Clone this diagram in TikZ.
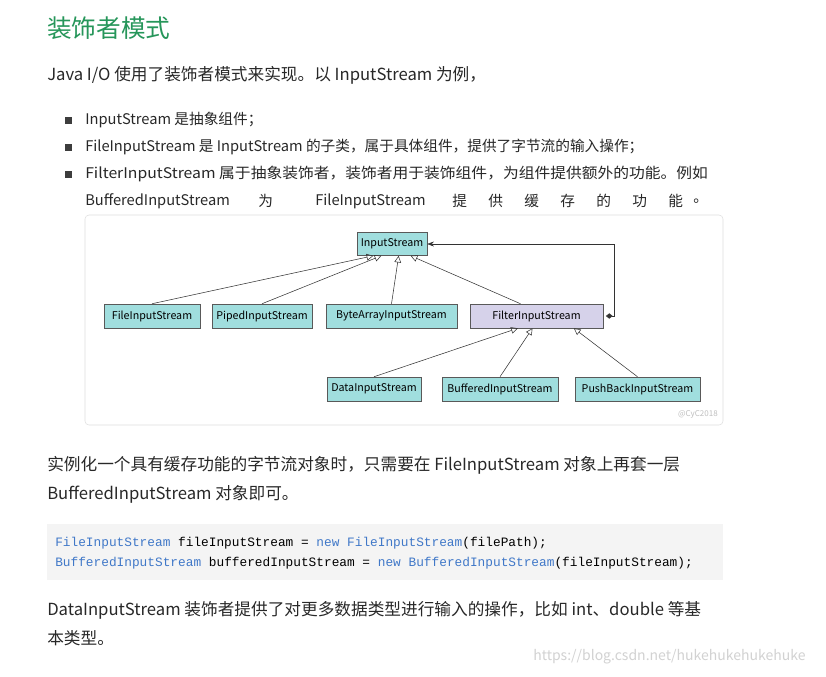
\documentclass[tikz,border=0pt]{standalone}
\usepackage{fontspec}
\setmainfont{Noto Sans CJK SC}
\setmonofont{Liberation Mono}
\usetikzlibrary{arrows.meta}
\definecolor{headg}{RGB}{38,150,90}
\definecolor{txt}{RGB}{40,40,40}
\definecolor{cyanbox}{RGB}{160,222,222}
\definecolor{purbox}{RGB}{214,210,234}
\definecolor{kw}{RGB}{64,120,200}
\tikzset{
 t/.style={anchor=west,inner sep=0pt,text=txt,font=\fontsize{12.5}{14}\selectfont},
 bt/.style={anchor=west,inner sep=0pt,text=txt,font=\fontsize{11}{12}\selectfont},
 cls/.style={draw=gray!70!black,fill=cyanbox,inner sep=0pt,font=\fontsize{8}{9}\selectfont},
 inh/.style={draw=gray!40!black,-{Triangle[open,length=5pt,width=5pt]}},
 code/.style={anchor=west,inner sep=0pt,font=\ttfamily\fontsize{9.6}{11}\selectfont}
}
\begin{document}
\begin{tikzpicture}[x=0.75pt,y=-0.75pt]
\fill[white] (0,0) rectangle (826,676);
\node[anchor=west,inner sep=0pt,text=headg,font=\fontsize{18.5}{20}\selectfont] (h) at (47,28) {装饰者模式};
\node[t] (p1) at (47,75) {Java I/O 使用了装饰者模式来实现。以 InputStream 为例，};
\foreach \y in {120,147,174}{\fill[txt!90] (65,\y-3.5) rectangle +(7,7);}
\node[bt] (b1) at (85,120) {InputStream 是抽象组件；};
\node[bt] (b2) at (85,147) {FileInputStream 是 InputStream 的子类，属于具体组件，提供了字节流的输入操作；};
\node[bt] (b3) at (85,174) {\scalebox{1.075}[1]{FilterInputStream 属于抽象装饰者，装饰者用于装饰组件，为组件提供额外的功能。例如}};
\node[bt] (c1) at (85,201) {BufferedInputStream};
\node[bt] (c2) at (258,201) {为};
\node[bt] (c3) at (315,201) {FileInputStream};
\foreach \x/\c in {452/提,488/供,524/缓,560/存,596/的,632/功,668/能,693/。}{\node[bt] at (\x,201) {\c};}
% diagram frame
\draw[gray!25,rounded corners=3pt] (85,215) rectangle (723,425);
\node[cls,minimum width=70*0.75pt,minimum height=23*0.75pt] (is) at (392,244) {InputStream};
\node[cls,minimum width=96*0.75pt,minimum height=24*0.75pt] (fis) at (152,316) {FileInputStream};
\node[cls,minimum width=100*0.75pt,minimum height=24*0.75pt] (pis) at (262,316) {PipedInputStream};
\node[cls,minimum width=131*0.75pt,minimum height=24*0.75pt] (bais) at (391.5,316) {ByteArrayInputStream};
\node[cls,fill=purbox,minimum width=133*0.75pt,minimum height=24*0.75pt] (fil) at (536.5,316) {FilterInputStream};
\node[cls,minimum width=94*0.75pt,minimum height=24*0.75pt] (dis) at (374,389) {DataInputStream};
\node[cls,minimum width=116*0.75pt,minimum height=24*0.75pt] (bis) at (500,389) {BufferedInputStream};
\node[cls,minimum width=125*0.75pt,minimum height=24*0.75pt] (pbis) at (637.5,389) {PushBackInputStream};
\draw[inh] (fis.north) -- ([xshift=-14]is.south);
\draw[inh] (pis.north) -- ([xshift=-8]is.south);
\draw[inh] (bais.north) -- ([xshift=5]is.south);
\draw[inh] ([xshift=-12]fil.north) -- ([xshift=14]is.south);
\draw[inh] (dis.north) -- ([xshift=-14]fil.south);
\draw[inh] (bis.north) -- ([xshift=-3]fil.south);
\draw[inh] (pbis.north) -- ([xshift=28]fil.south);
\coordinate (k) at (614,244);
\draw[gray!40!black,{Diamond[length=5pt,width=4pt]}-{Stealth[length=5pt]}] ([xshift=2]fil.east) -- (fil.east -| k) -- (k) -- (is.east);
\node[anchor=east,inner sep=0pt,text=gray!50,font=\itshape\fontsize{6}{7}\selectfont] (wm) at (718,414) {@CyC2018};
% paragraph
\node[t] (p2) at (47,465) {实例化一个具有缓存功能的字节流对象时，只需要在 FileInputStream 对象上再套一层};
\node[t] (p3) at (47,494) {BufferedInputStream 对象即可。};
\fill[gray!9] (47,524) rectangle (723,580);
\node[code] (l1) at (55,543) {\textcolor{kw}{FileInputStream} fileInputStream = \textcolor{kw}{new} \textcolor{kw}{FileInputStream}(filePath);};
\node[code] (l2) at (55,563) {\textcolor{kw}{BufferedInputStream} bufferedInputStream = \textcolor{kw}{new} \textcolor{kw}{BufferedInputStream}(fileInputStream);};
\node[t] (p4) at (47,610) {DataInputStream 装饰者提供了对更多数据类型进行输入的操作，比如 int、double 等基};
\node[t] (p5) at (47,638) {本类型。};
\node[anchor=west,inner sep=0pt,text=gray!35,font=\fontsize{10.5}{12}\selectfont] (url) at (533,657) {https://blog.csdn.net/hukehukehukehuke};
\end{tikzpicture}
\end{document}
